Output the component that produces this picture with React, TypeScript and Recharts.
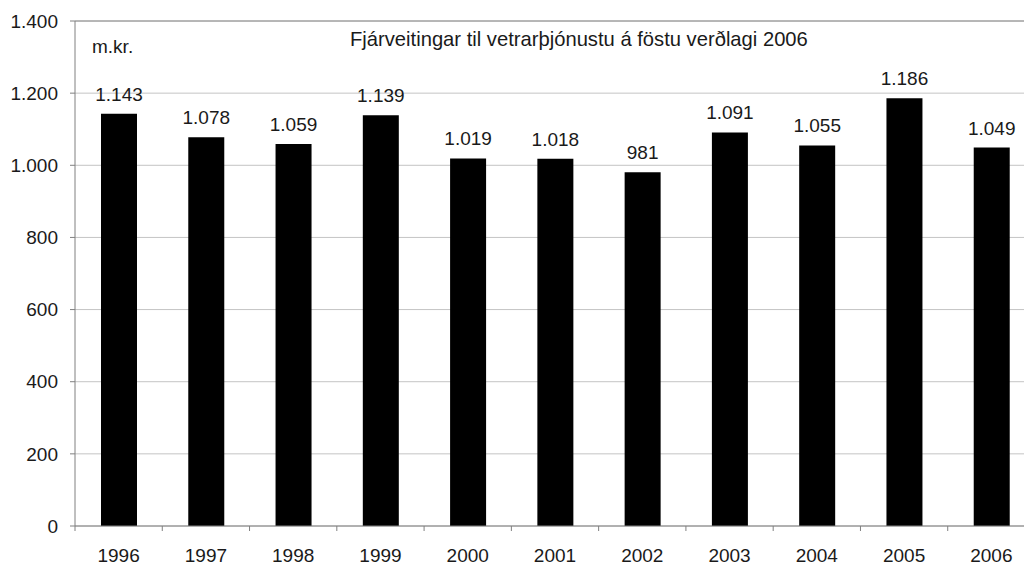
import { Bar, BarChart, CartesianGrid, LabelList, ReferenceLine, XAxis, YAxis } from "recharts";

const years = ["1996", "1997", "1998", "1999", "2000", "2001", "2002", "2003", "2004", "2005", "2006"];
const allocations = [1143, 1078, 1059, 1139, 1019, 1018, 981, 1091, 1055, 1186, 1049];
const yTicks = [0, 200, 400, 600, 800, 1000, 1200, 1400];

const TITLE = "Fjárveitingar til vetrarþjónustu á föstu verðlagi 2006";
const UNIT = "m.kr.";

const FONT = '"Liberation Sans", Arial, sans-serif';
const TEXT = "#1a1a1a";

const CHART_W = 1050;
const CHART_H = 566;
const Y_AXIS_W = 75;
const MARGIN = { top: 21, right: 15, left: 0, bottom: 0 };
const STEP = (CHART_W - Y_AXIS_W - MARGIN.left - MARGIN.right) / years.length;

// 1143 -> "1.143"
const fmt = (v: number) =>
  v >= 1000 ? `${Math.floor(v / 1000)}.${String(v % 1000).padStart(3, "0")}` : String(v);

const data = years.map((year, i) => ({ year, value: allocations[i] }));

// category label with the tick mark drawn at the left boundary of the band
function YearTick({ x, y, payload }: any) {
  const axisY = y - 15;
  return (
    <g>
      <line x1={x - STEP / 2} x2={x - STEP / 2} y1={axisY} y2={axisY + 5} stroke="#808080" />
      <text x={x} y={axisY + 36} textAnchor="middle" fill={TEXT} fontSize={19} fontFamily={FONT}>
        {payload.value}
      </text>
    </g>
  );
}

export default function App() {
  return (
    <div
      style={{
        position: "absolute",
        left: 0,
        top: 0,
        width: 1024,
        height: 566,
        overflow: "hidden",
        background: "#fff",
        fontFamily: FONT,
      }}
    >
      <BarChart width={CHART_W} height={CHART_H} data={data} margin={MARGIN}>
        <CartesianGrid vertical={false} stroke="#c4c4c4" />
        <ReferenceLine y={1400} stroke="#8c8c8c" />
        <XAxis
          dataKey="year"
          height={40}
          tickLine={false}
          tickSize={5}
          tickMargin={10}
          axisLine={{ stroke: "#808080" }}
          tick={<YearTick />}
          interval={0}
        />
        <YAxis
          width={Y_AXIS_W}
          domain={[0, 1400]}
          ticks={yTicks}
          tickFormatter={fmt}
          tickSize={5}
          tickMargin={12}
          axisLine={{ stroke: "#808080" }}
          tickLine={{ stroke: "#808080" }}
          tick={{ fill: TEXT, fontSize: 19, fontFamily: FONT }}
        />
        <Bar dataKey="value" fill="#000" barSize={36} isAnimationActive={false}>
          <LabelList
            dataKey="value"
            position="top"
            offset={13}
            formatter={(v: any) => fmt(Number(v))}
            fill={TEXT}
            fontSize={19}
            fontFamily={FONT}
          />
        </Bar>
      </BarChart>
      <div
        style={{
          position: "absolute",
          left: 92,
          top: 35,
          fontSize: 19,
          color: TEXT,
          lineHeight: "24px",
        }}
      >
        {UNIT}
      </div>
      <div
        style={{
          position: "absolute",
          left: 350,
          top: 27,
          fontSize: 20.2,
          color: TEXT,
          lineHeight: "24px",
          whiteSpace: "nowrap",
        }}
      >
        {TITLE}
      </div>
    </div>
  );
}
